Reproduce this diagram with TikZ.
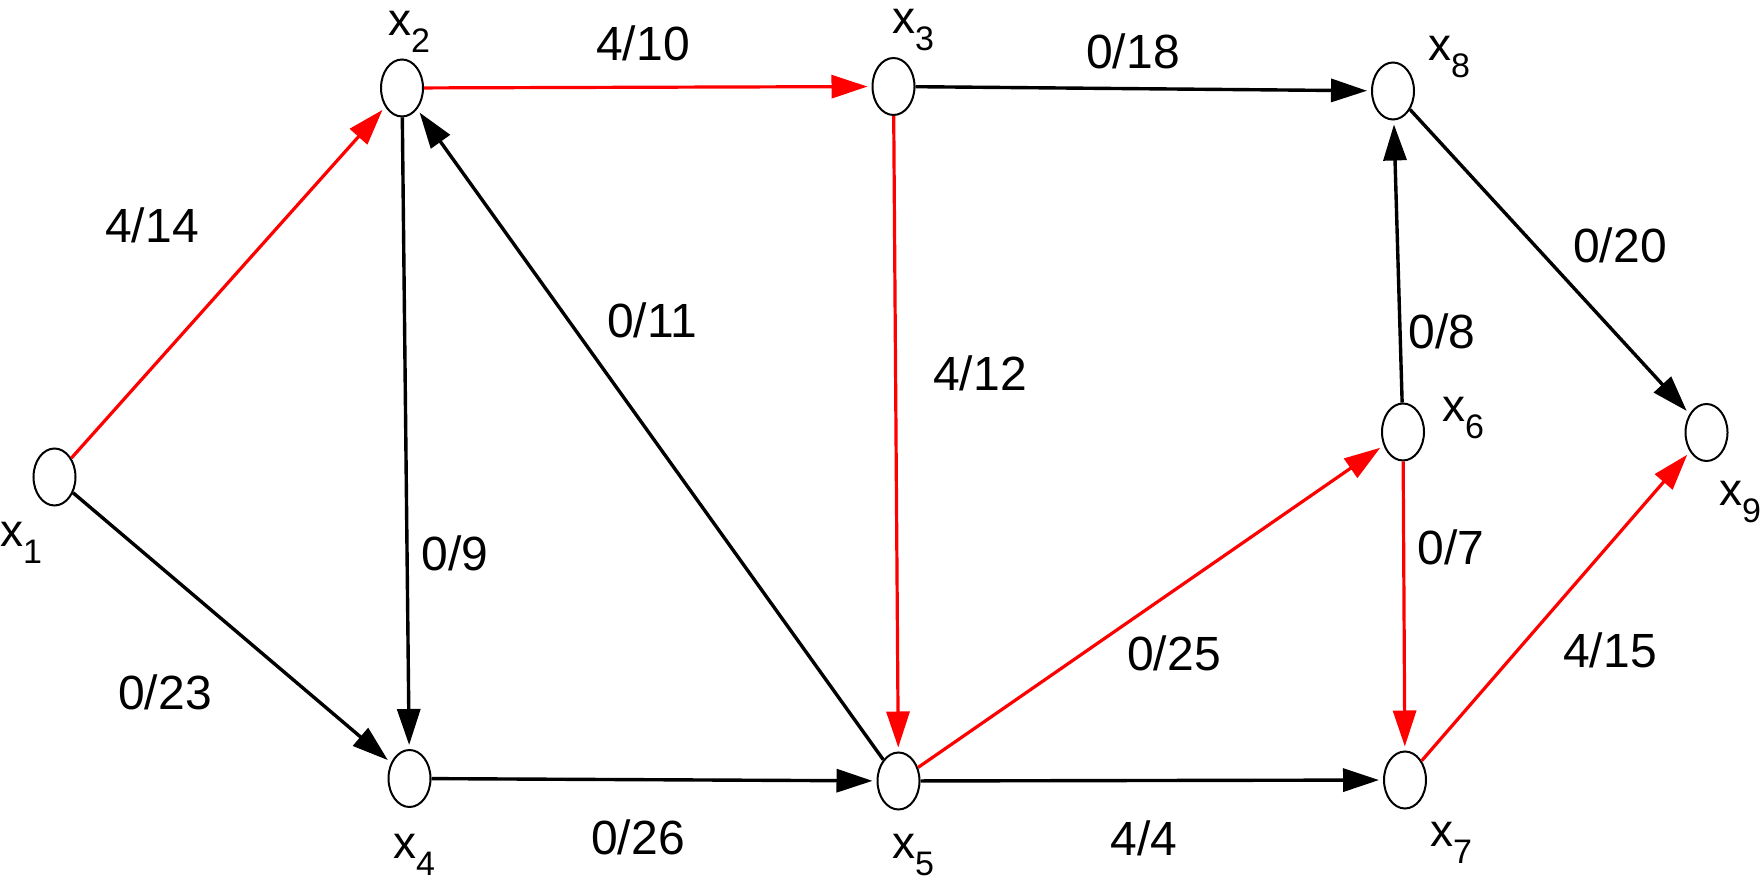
\documentclass[tikz,border=0pt]{standalone}
\usepackage{fontspec}
\setmainfont{Liberation Sans}
\usetikzlibrary{shapes.geometric,arrows.meta}
\newcommand\xsub[1]{{\fontsize{23}{23}\selectfont x}\raisebox{-8.5pt}{\fontsize{17}{17}\selectfont #1}}
\tikzset{
  vert/.style={ellipse, draw, line width=1pt, minimum width=21pt, minimum height=28.5pt, inner sep=0pt},
  blk/.style={line width=1.7pt, -{Triangle[length=18pt,width=11.5pt]}, shorten >=2pt},
  rd/.style={blk, red, line width=1.6pt},
  lab/.style={font=\fontsize{24}{24}\selectfont, inner sep=0pt},
  vlab/.style={inner sep=0pt}
}
\begin{document}
\begin{tikzpicture}[x=0.5pt,y=-0.5pt]
\useasboundingbox (0,0) rectangle (1762,881);
% vertices
\node[vert] (x1) at (54.5,477) {};
\node[vert] (x2) at (402,88) {};
\node[vert] (x3) at (893.5,86.5) {};
\node[vert] (x8) at (1393,91) {};
\node[vert] (x6) at (1403,432) {};
\node[vert] (x9) at (1706.5,432.5) {};
\node[vert] (x4) at (409.5,778.5) {};
\node[vert] (x5) at (898.5,781) {};
\node[vert] (x7) at (1405,780) {};
% vertex labels
\node[vlab] (l1) at (21,543) {\xsub{1}};
\node[vlab] (l2) at (409,32) {\xsub{2}};
\node[vlab] (l3) at (913,30) {\xsub{3}};
\node[vlab] (l8) at (1449,57) {\xsub{8}};
\node[vlab] (l6) at (1463,418) {\xsub{6}};
\node[vlab] (l9) at (1740,502) {\xsub{9}};
\node[vlab] (l4) at (414,855) {\xsub{4}};
\node[vlab] (l5) at (913,855) {\xsub{5}};
\node[vlab] (l7) at (1451,843) {\xsub{7}};
% edges
\draw[rd] (x1) -- (x2);
\draw[blk] (x1) -- (x4);
\draw[rd] (x2) -- (x3);
\draw[blk] (x2) -- (x4);
\draw[blk] (x3) -- (x8);
\draw[rd] (x3) -- (x5);
\draw[blk] (x5) -- (x2);
\draw[blk] (x4) -- (x5);
\draw[rd] (x5) -- (x6);
\draw[blk] (x5) -- (x7);
\draw[blk] (x6) -- (x8);
\draw[rd] (x6) -- (x7);
\draw[blk] (x8) -- (x9);
\draw[rd] (x7) -- (x9);
% edge labels
\node[lab] (e12) at (643,43) {4/10};
\node[lab] (e38) at (1133,51) {0/18};
\node[lab] (e1a) at (152,225) {4/14};
\node[lab] (e89) at (1620,245) {0/20};
\node[lab] (e52) at (652,320) {0/11};
\node[lab] (e35) at (980,373) {4/12};
\node[lab] (e68) at (1442,331) {0/8};
\node[lab] (e24) at (455,553) {0/9};
\node[lab] (e67) at (1451,547) {0/7};
\node[lab] (e56) at (1174,653) {0/25};
\node[lab] (e79) at (1610,650) {4/15};
\node[lab] (e14) at (165,692) {0/23};
\node[lab] (e45) at (638,837) {0/26};
\node[lab] (e57) at (1144,838) {4/4};
\end{tikzpicture}
\end{document}
